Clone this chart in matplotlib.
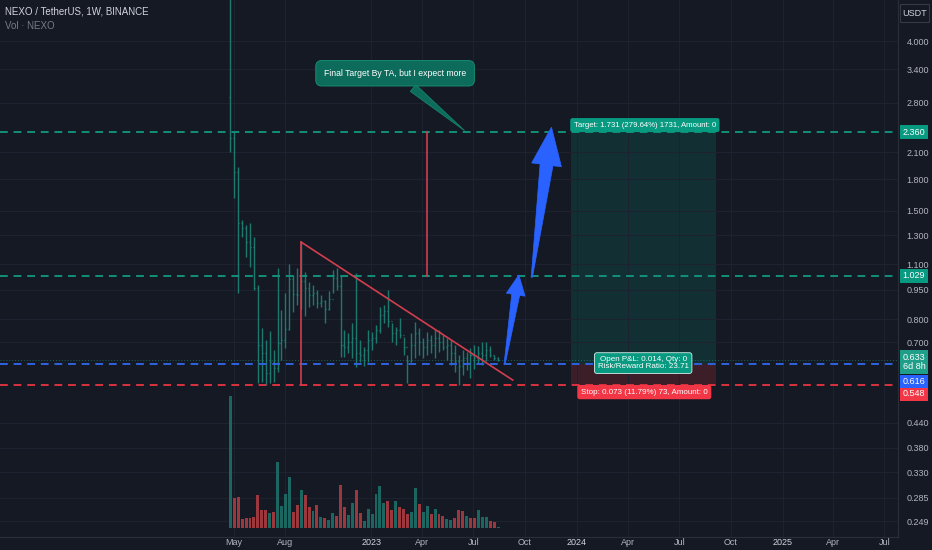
import numpy as np
import pandas as pd
import matplotlib
matplotlib.use("Agg")
import matplotlib.pyplot as plt
import matplotlib.dates as mdates
from matplotlib.patches import Polygon, Rectangle
from matplotlib.ticker import NullLocator
from matplotlib.transforms import IdentityTransform

plt.rcParams['font.family'] = ['Liberation Sans Narrow', 'Liberation Sans', 'DejaVu Sans']

# weekly NEXO/USDT bars
first_week = "2022-04-25"
first_open = 2.9
highs = [9.0, 2.36, 1.93, 1.42, 1.38, 1.40, 1.29, 0.975, 0.761, 0.71,
         0.748, 0.67, 1.076, 0.844, 0.93, 1.10, 1.033, 1.076, 1.25, 1.05,
         0.99, 0.975, 0.947, 0.92, 0.894, 0.94, 1.064, 1.076, 1.033, 0.752,
         0.739, 0.783, 1.046, 0.71, 0.68, 0.752, 0.743, 0.775, 0.86, 0.869,
         0.948, 0.783, 0.765, 0.806, 0.722, 0.65, 0.739, 0.787, 0.761, 0.718,
         0.743, 0.73, 0.752, 0.752, 0.73, 0.718, 0.71, 0.69, 0.65, 0.67,
         0.661, 0.677, 0.69, 0.685, 0.70, 0.70, 0.685, 0.65, 0.645]
lows = [2.10, 1.61, 0.93, 1.29, 1.147, 1.082, 0.948, 0.553, 0.556, 0.547,
        0.553, 0.556, 0.59, 0.632, 0.678, 0.752, 0.834, 0.869, 0.85, 0.815,
        0.86, 0.869, 0.853, 0.858, 0.783, 0.845, 0.93, 0.948, 0.643, 0.643,
        0.657, 0.639, 0.606, 0.624, 0.61, 0.625, 0.67, 0.697, 0.739, 0.783,
        0.765, 0.70, 0.69, 0.718, 0.65, 0.553, 0.625, 0.639, 0.65, 0.639,
        0.65, 0.66, 0.639, 0.661, 0.67, 0.632, 0.614, 0.589, 0.547, 0.58,
        0.595, 0.57, 0.60, 0.62, 0.614, 0.63, 0.643, 0.632, 0.628]
closes = [2.28, 1.875, 1.40, 1.356, 1.25, 1.215, 0.958, 0.69, 0.658, 0.586,
          0.625, 0.603, 0.697, 0.71, 0.756, 1.01, 0.926, 0.92, 1.0, 0.96,
          0.92, 0.93, 0.88, 0.89, 0.85, 0.90, 1.015, 0.97, 0.69, 0.68,
          0.70, 0.72, 0.66, 0.65, 0.67, 0.71, 0.72, 0.75, 0.82, 0.84,
          0.79, 0.74, 0.75, 0.73, 0.68, 0.63, 0.69, 0.74, 0.70, 0.68,
          0.71, 0.69, 0.72, 0.70, 0.68, 0.69, 0.66, 0.63, 0.61, 0.64,
          0.62, 0.65, 0.64, 0.66, 0.65, 0.67, 0.65, 0.64, 0.633]
# volume in millions, and whether the week closed up (teal) or down (red)
volumes = [44.0, 10.1, 10.4, 3.0, 3.4, 3.2, 3.7, 10.9, 5.9, 6.1,
           5.0, 5.4, 22.1, 7.3, 11.2, 17.0, 5.2, 7.6, 12.7, 10.9,
           7.0, 5.7, 7.7, 3.7, 3.3, 2.7, 5.0, 4.1, 14.3, 7.0,
           4.3, 8.2, 12.6, 5.0, 2.3, 6.3, 4.7, 11.3, 13.9, 8.2,
           9.0, 6.1, 8.9, 6.9, 6.3, 4.6, 5.4, 13.4, 8.0, 5.3,
           7.3, 4.6, 6.2, 4.6, 4.1, 3.0, 2.7, 3.2, 6.1, 5.7,
           3.9, 3.2, 3.4, 5.9, 3.8, 3.7, 2.3, 2.1, 0.3]
vol_up = [1, 0, 0, 0, 0, 0, 0, 0, 0, 0,
          1, 0, 1, 1, 1, 1, 0, 0, 1, 0,
          0, 1, 0, 1, 0, 1, 1, 0, 0, 0,
          1, 1, 0, 0, 1, 1, 1, 1, 1, 1,
          0, 0, 1, 0, 0, 0, 1, 1, 0, 1,
          1, 0, 1, 0, 0, 1, 1, 0, 0, 0,
          1, 0, 0, 1, 1, 1, 0, 0, 1]

price_ticks = [4.0, 3.4, 2.8, 2.1, 1.8, 1.5, 1.3, 1.1, 0.95, 0.8, 0.7,
               0.44, 0.38, 0.33, 0.285, 0.249]
time_ticks = ["2022-05-01", "2022-08-01", "2023-01-01", "2023-04-01", "2023-07-01",
              "2023-10-01", "2024-01-01", "2024-04-01", "2024-07-01", "2024-10-01",
              "2025-01-01", "2025-04-01", "2025-07-01"]
time_labels = ["May", "Aug", "2023", "Apr", "Jul", "Oct", "2024", "Apr", "Jul", "Oct",
               "2025", "Apr", "Jul"]

target_price = 2.360
mid_target = 1.029
entry_price = 0.616
stop_price = 0.548
last_price = 0.633

BG = "#151924"
GRID = "#1e2230"
TXT = "#b2b5be"
TEAL = "#089981"
RED = "#f23645"
BLUE = "#2962ff"


def d(s):
    return mdates.date2num(pd.Timestamp(s))


weeks = pd.date_range(first_week, periods=len(highs), freq="7D")
x = mdates.date2num(weeks)
opens = [first_open] + closes[:-1]

W, H = 932, 550
fig = plt.figure(figsize=(W / 100, H / 100), dpi=100, facecolor=BG)
pos = [0, 13 / H, 898 / W, 537 / H]
ax = fig.add_axes(pos)
axv = fig.add_axes(pos)   # volume drawn above the grid of the price pane
ax.set_facecolor(BG)
axv.set_facecolor("none")

x0 = d("2023-01-01")
xlim = (x0 - 660.4, x0 + 936)
for a in (ax, axv):
    a.set_xlim(*xlim)

# volume overlay
axv.bar(x, volumes, width=5.2, color=["#1c6662" if u else "#9c373d" for u in vol_up], zorder=2)
axv.set_ylim(-3, 176)
axv.set_xticks([])
axv.set_yticks([])
for s in axv.spines.values():
    s.set_visible(False)

# price pane
ax.set_yscale("log")
ax.set_ylim(0.2271, 5.071)
ax.yaxis.set_minor_locator(NullLocator())
ax.yaxis.tick_right()
ax.set_yticks(price_ticks)
ax.set_yticklabels([f"{p:.3f}" for p in price_ticks])
ax.set_xticks([d(t) for t in time_ticks])
ax.set_xticklabels(time_labels)
ax.tick_params(axis="y", length=0, pad=6, labelsize=6.5, labelcolor=TXT)
ax.tick_params(axis="x", length=0, pad=1, labelsize=6.5, labelcolor=TXT)
for lab in ax.get_xticklabels():
    if lab.get_text().isdigit():
        lab.set_color("#d1d4dc")
ax.grid(True, color=GRID, lw=0.8)
for k in ("top", "left"):
    ax.spines[k].set_visible(False)
for k in ("right", "bottom"):
    ax.spines[k].set_color("#2a2e39")

# bars
ax.vlines(x, lows, highs, color="#1f8a7c", lw=1.0, alpha=0.85, zorder=3)
ax.hlines(opens, x - 1.8, x, color="#1f8a7c", lw=1.0, alpha=0.85, zorder=3)
ax.hlines(closes, x, x + 1.8, color="#1f8a7c", lw=1.0, alpha=0.85, zorder=3)

# long position tool
ax.fill_between([d("2023-12-21"), d("2024-09-04")], entry_price, target_price,
                color=TEAL, alpha=0.18, lw=0, zorder=1)
ax.fill_between([d("2023-12-21"), d("2024-09-04")], stop_price, entry_price,
                color=RED, alpha=0.18, lw=0, zorder=1)

# horizontal levels
ax.axhline(target_price, color="#11907a", lw=1.4, ls=(0, (4, 3)), zorder=4)
ax.axhline(mid_target, color="#11907a", lw=1.4, ls=(0, (4, 3)), zorder=4)
ax.axhline(entry_price, color="#2f62e0", lw=1.4, ls=(0, (4, 3)), zorder=4)
ax.axhline(stop_price, color="#d9323f", lw=1.4, ls=(0, (4, 3)), zorder=4)
ax.axhline(last_price, color="#22ab94", lw=0.7, ls=(0, (1, 2)), alpha=0.5, zorder=2)

# pattern drawings
RL = "#d23e4e"
ax.plot([d("2022-08-29"), d("2023-09-09")], [1.25, 0.563], color=RL, lw=1.2, zorder=5)
ax.plot([d("2022-08-29"), d("2022-08-29")], [stop_price, 1.25], color=RL, lw=1.2, zorder=5)
ax.plot([d("2023-04-10"), d("2023-04-10")], [mid_target, target_price], color=RL, lw=1.2, zorder=5)

# callout
ax.annotate("Final Target By TA, but I expect more",
            xy=(d("2023-06-19"), target_price), xytext=(d("2023-02-12"), 3.32),
            ha="center", va="center", fontsize=6.2, color="white", zorder=7,
            bbox=dict(boxstyle="round,pad=0.95,rounding_size=0.7", fc="#0d6b5b", ec="#14866f", lw=0.8),
            arrowprops=dict(arrowstyle="wedge,tail_width=1.0,shrink_factor=0.5",
                            fc="#0d6b5b", ec="#14866f", lw=0.6))

# position labels
ax.text(d("2024-05-01"), 2.46, "Target: 1.731 (279.64%) 1731, Amount: 0", ha="center", va="center",
        fontsize=5.6, color="white", zorder=8,
        bbox=dict(boxstyle="round,pad=0.45,rounding_size=0.3", fc=TEAL, ec="none"))
ax.text(d("2024-04-28"), 0.621, "Open P&L: 0.014, Qty: 0\nRisk/Reward Ratio: 23.71", ha="center",
        va="center", fontsize=5.8, color="white", linespacing=1.05, zorder=8,
        bbox=dict(boxstyle="round,pad=0.4,rounding_size=0.3", fc=TEAL, ec="#d8efe9", lw=0.6))
ax.text(d("2024-04-30"), 0.525, "Stop: 0.073 (11.79%) 73, Amount: 0", ha="center", va="center",
        fontsize=5.8, color="white", zorder=8,
        bbox=dict(boxstyle="round,pad=0.45,rounding_size=0.3", fc=RED, ec="none"))


# blue arrows (TradingView arrow drawings)
def arrow_shape(tail, tip, tail_w, body_w, head_w, head_len):
    p0 = ax.transData.transform((d(tail[0]), tail[1]))
    p1 = ax.transData.transform((d(tip[0]), tip[1]))
    v = p1 - p0
    u = v / np.hypot(*v)
    n = np.array([-u[1], u[0]])
    neck = p1 - u * head_len
    pts = [p0 + n * tail_w, neck + n * body_w, neck + n * head_w, p1,
           neck - n * head_w, neck - n * body_w, p0 - n * tail_w]
    return ax.transData.inverted().transform(np.array(pts))


for tail, tip, dims in [(("2023-08-26", 0.621), ("2023-09-20", 1.034), (0.6, 4.0, 9.5, 20)),
                        (("2023-10-13", 1.02), ("2023-11-17", 2.43), (0.6, 6.5, 15, 38))]:
    ax.add_patch(Polygon(arrow_shape(tail, tip, *dims), closed=True, fc="#2962ff",
                         ec="#2962ff", lw=0.5, zorder=6))

# right-axis value badges (display pixels)
idt = IdentityTransform()


def badge(yc, h, text, color):
    fig.add_artist(Rectangle((900, yc - h / 2), 28, h, transform=idt, fc=color, ec="none"))
    fig.text(914, yc, text, transform=idt, ha="center", va="center", fontsize=6.5,
             color="white", linespacing=1.1)


for p in (target_price, mid_target):
    badge(ax.transData.transform((x0, p))[1], 14, f"{p:.3f}", TEAL)
badge(H - 362, 24, f"{last_price:.3f}\n6d 8h", "#1f9e8a")
badge(H - 381, 13, f"{entry_price:.3f}", BLUE)
badge(H - 394, 13, f"{stop_price:.3f}", RED)

# header texts
fig.text(5, H - 12, "NEXO / TetherUS, 1W, BINANCE", transform=idt, ha="left", va="center",
         fontsize=7, color="#d1d4dc")
fig.text(5, H - 26, "Vol · NEXO", transform=idt, ha="left", va="center",
         fontsize=7, color="#787b86")
fig.add_artist(Rectangle((900, H - 22), 29, 18, transform=idt, fc=BG, ec="#363a45", lw=0.8))
fig.text(914.5, H - 13, "USDT", transform=idt, ha="center", va="center", fontsize=6.5, color="#d1d4dc")

fig.savefig("out.png", dpi=100, facecolor=BG)
